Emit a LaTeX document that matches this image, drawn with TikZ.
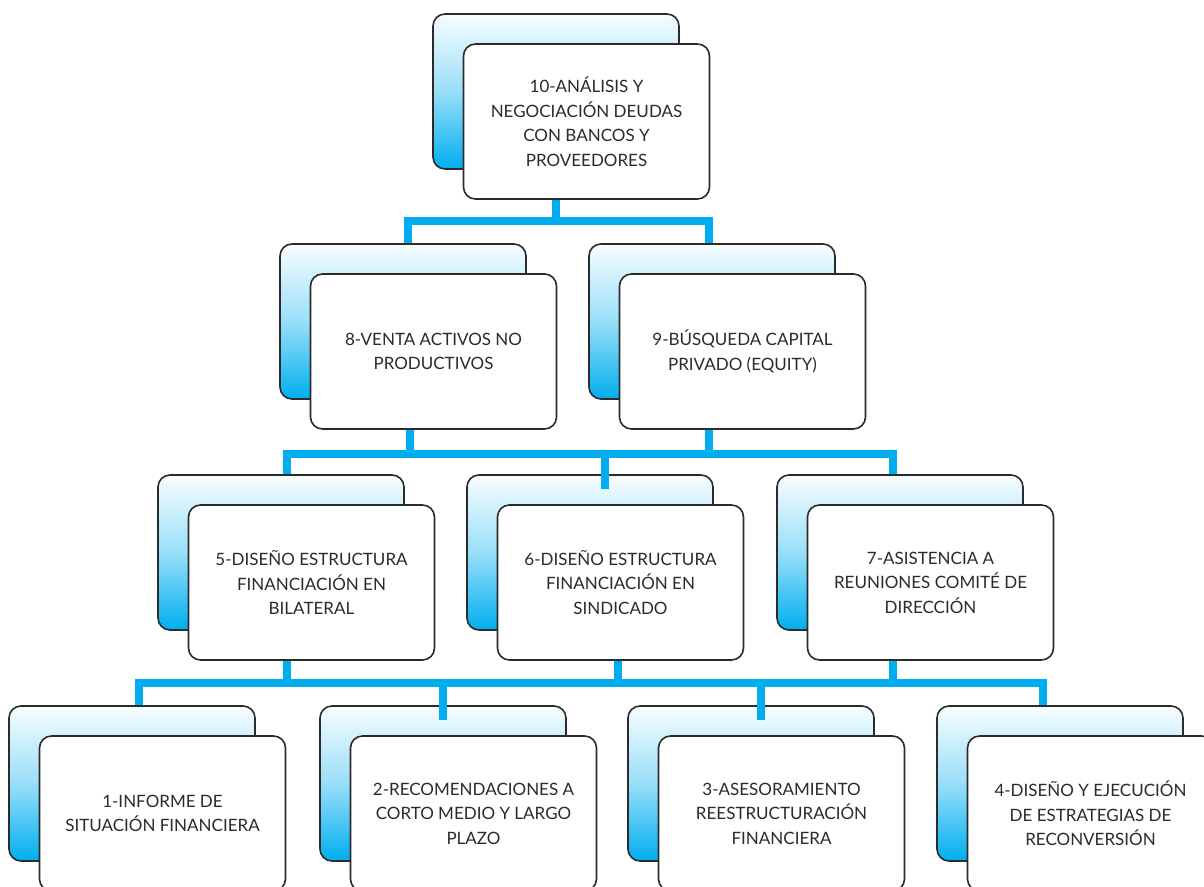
\documentclass[tikz,border=0pt]{standalone}
\usepackage{fontspec}
\setmainfont{Lato}
\usetikzlibrary{calc}
\definecolor{busblue}{HTML}{00AEEF}
\definecolor{boxline}{HTML}{2B2B2B}
\tikzset{
	backbox/.style={rectangle, rounded corners=12pt, draw=boxline, line width=1.6pt,
		minimum width=246pt, minimum height=155pt, inner sep=0pt,
		top color=busblue!3, bottom color=busblue, middle color=busblue!40},
	frontbox/.style={rectangle, rounded corners=12pt, draw=boxline, line width=1.6pt,
		fill=white, minimum width=246pt, minimum height=155pt, inner sep=0pt,
		align=center, text=boxline, font=\fontsize{17}{24.5}\selectfont},
	bus/.style={draw=busblue, line width=8pt, line join=miter}
}
\def\boxpair(#1)(#2,#3)#4{%
	\node[backbox] (b#1) at (#2,#3) {};
	\node[frontbox] (f#1) at (#2+30.5,#3+30) {#4};
}

\begin{document}
\begin{tikzpicture}[x=1pt, y=-1pt]
			%%%%% START %%%%%
			\useasboundingbox (0,0) rectangle (1204,886);
			\clip (0,0) rectangle (1204,886);
			
			% top
			\boxpair(10)(556,91.5){10-ANÁLISIS Y\\NEGOCIACIÓN DEUDAS\\CON BANCOS Y\\PROVEEDORES}
			
			% second row
			\boxpair(8)(403,321.5){8-VENTA ACTIVOS NO\\PRODUCTIVOS}
			\boxpair(9)(712,321.5){9-BÚSQUEDA CAPITAL\\PRIVADO (EQUITY)}
			
			% third row
			\boxpair(5)(281,552.5){5-DISEÑO ESTRUCTURA\\FINANCIACIÓN EN\\BILATERAL}
			\boxpair(6)(590,552.5){6-DISEÑO ESTRUCTURA\\FINANCIACIÓN EN\\SINDICADO}
			\boxpair(7)(900,552.5){7-ASISTENCIA A\\REUNIONES COMITÉ DE\\DIRECCIÓN}
			
			% bottom row
			\boxpair(1)(132,783.5){1-INFORME DE\\SITUACIÓN FINANCIERA}
			\boxpair(2)(443,783.5){2-RECOMENDACIONES A\\CORTO MEDIO Y LARGO\\PLAZO}
			\boxpair(3)(751,783.5){3-ASESORAMIENTO\\REESTRUCTURACIÓN\\FINANCIERA}
			\boxpair(4)(1060,783.5){4-DISEÑO Y EJECUCIÓN\\DE ESTRATEGIAS DE\\RECONVERSIÓN}
			
			% rails
			\coordinate (r1) at (0,221);
			\coordinate (r2) at (0,454);
			\coordinate (r3) at (0,683);
			\coordinate (m6) at ($(b6.north)!.5!(f6.north)$);
			\coordinate (m2) at ($(b2.north)!.5!(f2.north)$);
			\coordinate (m3) at ($(b3.north)!.5!(f3.north)$);
			
			% 10 -> 8, 9
			\draw[bus] (b10.center |- f10.south) -- (b10.center |- r1);
			\draw[bus] ($(b8.north)+(5,0)$) |- ($(b9.north |- r1)+(-3,0)$) -- ($(b9.north)+(-3,0)$);
			
			% 8, 9 -> 5, 6, 7
			\draw[bus] ($(b8.center |- f8.south)+(7,0)$) -- ($(b8.center |- r2)+(7,0)$);
			\draw[bus] ($(b9.center |- f9.south)+(-3,0)$) -- ($(b9.center |- r2)+(-3,0)$);
			\draw[bus] ($(b5.north)+(6,0)$) |- ($(b7.north |- r2)+(-7,0)$) -- ($(b7.north)+(-7,0)$);
			\draw[bus] (m6 |- r2) -- (m6);
			
			% 5, 6, 7 -> 1, 2, 3, 4
			\draw[bus] ($(b5.center |- f5.south)+(6,0)$) -- ($(b5.center |- r3)+(6,0)$);
			\draw[bus] ($(f6.south)+(-3,0)$) -- ($(f6.south |- r3)+(-3,0)$);
			\draw[bus] ($(b7.center |- f7.south)+(-7,0)$) -- ($(b7.center |- r3)+(-7,0)$);
			\draw[bus] ($(b1.north)+(7,0)$) |- ($(b4.north |- r3)+(-17,0)$) -- ($(b4.north)+(-17,0)$);
			\draw[bus] (b2.north |- r3) -- (b2.north |- m2);
			\draw[bus] ($(b3.north |- r3)+(10,0)$) -- ($(b3.north |- m3)+(10,0)$);
			
			%%%%% END %%%%%
\end{tikzpicture}
\end{document}
